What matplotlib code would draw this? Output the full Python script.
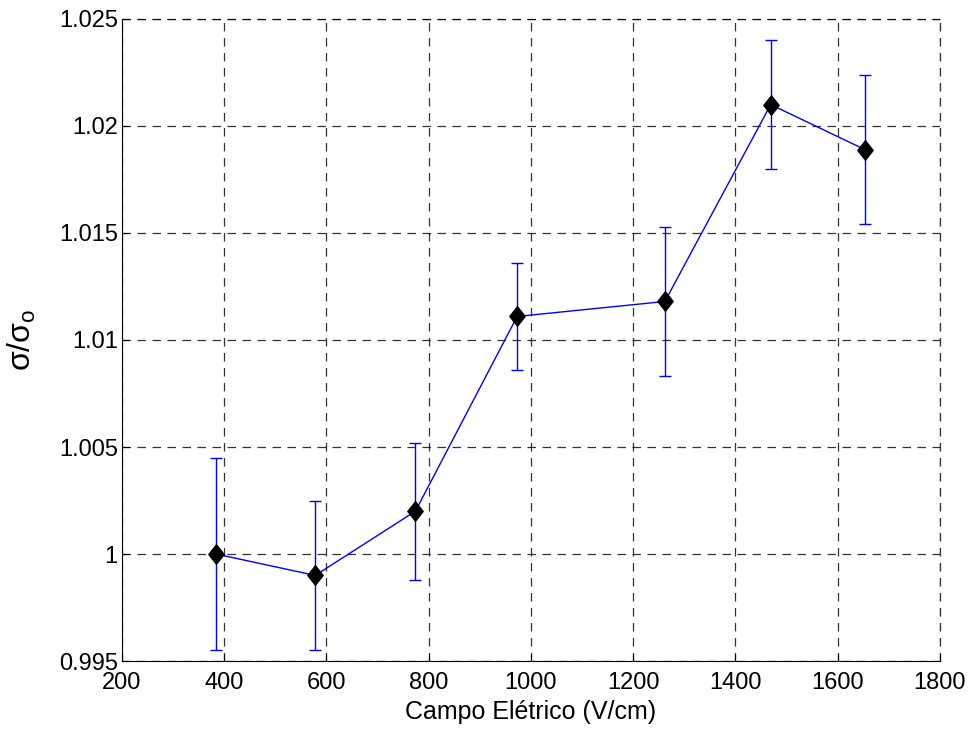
import matplotlib
matplotlib.use('Agg')
from matplotlib import pyplot as plt
from matplotlib.path import Path
import numpy as np

# campo eletrico aplicado e condutividade relativa
campo = [384, 578, 774, 973, 1262, 1469, 1653]
sigma_rel = [1.0000, 0.9990, 1.0020, 1.0111, 1.0118, 1.0210, 1.0189]
erro = [0.0045, 0.0035, 0.0032, 0.0025, 0.0035, 0.0030, 0.0035]

xticks = [200, 400, 600, 800, 1000, 1200, 1400, 1600, 1800]
yticks = [0.995, 1.0, 1.005, 1.01, 1.015, 1.02, 1.025]
yticklabels = ['0.995', '1', '1.005', '1.01', '1.015', '1.02', '1.025']

plt.rcParams['font.family'] = ['Liberation Sans', 'DejaVu Sans']
plt.rcParams['mathtext.fontset'] = 'custom'
plt.rcParams['mathtext.rm'] = 'Liberation Sans'
plt.rcParams['mathtext.it'] = 'Liberation Sans'

# losango um pouco mais alto que largo
losango = Path([(0, 1), (0.79, 0), (0, -1), (-0.79, 0), (0, 1)],
               [Path.MOVETO, Path.LINETO, Path.LINETO, Path.LINETO, Path.CLOSEPOLY])

tracejado = (0, (6.8, 5.2))

fig = plt.figure(figsize=(9.72, 7.3), dpi=100)
ax = fig.add_axes([0.1255, 0.0945, 0.8415, 0.8795])

ax.errorbar(campo, sigma_rel, yerr=erro, color='#0000ff', linewidth=1,
            elinewidth=1, capsize=4.5, capthick=1, zorder=3)
ax.plot(campo, sigma_rel, linestyle='', marker=losango, markersize=14,
        color='k', zorder=4)

ax.set_xlim(200, 1800)
ax.set_ylim(0.995, 1.025)
ax.set_xticks(xticks)
ax.set_yticks(yticks)
ax.set_yticklabels(yticklabels)
ax.tick_params(direction='in', length=5, labelsize=17, top=False, right=False)
ax.tick_params(axis='y', pad=3)
ax.tick_params(axis='x', pad=8)

ax.grid(True, color='k', linestyle=tracejado, linewidth=0.9, alpha=0.8)
ax.spines['top'].set_visible(False)
ax.spines['right'].set_visible(False)

# linhas tracejadas nos limites superior e direito
ax.axhline(1.025, color='k', linestyle=tracejado, linewidth=0.9, alpha=0.8, clip_on=False)
ax.axvline(1800, color='k', linestyle=tracejado, linewidth=0.9, alpha=0.8, clip_on=False)

ax.set_xlabel('Campo Elétrico (V/cm)', fontsize=18, labelpad=4)
ax.set_ylabel(r'$\mathregular{\sigma/\sigma_o}$', fontsize=23, labelpad=15)

fig.savefig('out.png', dpi=100)
